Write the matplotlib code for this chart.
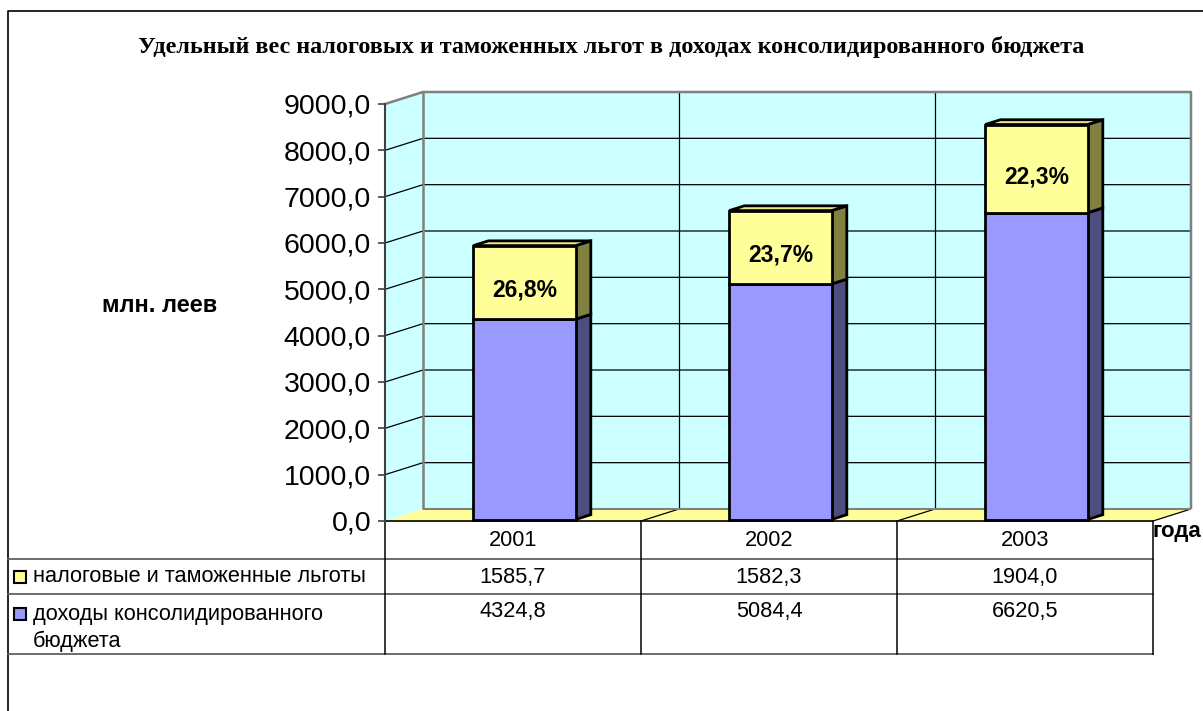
import matplotlib
matplotlib.use('Agg')
import matplotlib.pyplot as plt
from matplotlib.patches import Polygon, Rectangle
from matplotlib import transforms
import numpy as np

# ---------------- data ----------------
years = ['2001', '2002', '2003']
benefits = [1585.7, 1582.3, 1904.0]      # налоговые и таможенные льготы
revenues = [4324.8, 5084.4, 6620.5]      # доходы консолидированного бюджета
series_names = ['налоговые и таможенные льготы',
                'доходы консолидированного\nбюджета']
yticks = list(range(0, 9001, 1000))
title = 'Удельный вес налоговых и таможенных льгот в доходах консолидированного бюджета'
ylabel = 'млн. леев'
xlabel = 'года'

# ---------------- style ----------------
SANS = 'Liberation Sans'
SERIF = 'Liberation Serif'
WALL = '#CCFFFF'
FLOOR = '#FFFF99'
C_BEN_FRONT, C_BEN_SIDE, C_BEN_TOP = '#FFFF99', '#808040', '#E6E68A'
C_REV_FRONT, C_REV_SIDE, C_REV_TOP = '#9999FF', '#4D4D80', '#8A8AE6'
GRAY = '#808080'

W, H = 1203, 711
fig = plt.figure(figsize=(W / 100, H / 100), dpi=100)
fig.patch.set_facecolor('white')

# pixel overlay axes for frame / table
pix = fig.add_axes([0, 0, 1, 1])
pix.set_xlim(0, W)
pix.set_ylim(H, 0)
pix.axis('off')

# front plane of the 3D plot
L, R, T, B = 385, 1153, 104, 521
ax = fig.add_axes([L / W, 1 - B / H, (R - L) / W, (B - T) / H])
ncat = len(years)
ymax = 9000
ax.set_xlim(0, ncat)
ax.set_ylim(0, ymax)
ax.patch.set_visible(False)
for s in ['top', 'right', 'bottom']:
    ax.spines[s].set_visible(False)
ax.spines['left'].set_color('#404040')
ax.spines['left'].set_linewidth(1.5)
ax.set_xticks([])
ax.set_yticks(yticks)
ax.set_yticklabels([f'{v:.1f}'.replace('.', ',') for v in yticks],
                   fontsize=20.5, family=SANS)
ax.tick_params(axis='y', length=5, width=1.2, color='#404040', pad=5)

# depth in data units
DXp, DYp = 38, 12
DX = DXp / ((R - L) / ncat)
DY = DYp / ((B - T) / ymax)


def poly(pts, **kw):
    p = Polygon(pts, closed=True, clip_on=False, **kw)
    ax.add_patch(p)
    return p


def line(xs, ys, **kw):
    ax.plot(xs, ys, clip_on=False, solid_capstyle='butt', **kw)


# back wall
poly([(DX, DY), (ncat + DX, DY), (ncat + DX, ymax + DY), (DX, ymax + DY)],
     facecolor=WALL, edgecolor='none', zorder=1)
# side wall
poly([(0, 0), (DX, DY), (DX, ymax + DY), (0, ymax)],
     facecolor=WALL, edgecolor='none', zorder=1)
# floor
poly([(0, 0), (ncat, 0), (ncat + DX, DY), (DX, DY)],
     facecolor=FLOOR, edgecolor='none', zorder=1)

# gridlines
for v in yticks[1:-1]:
    line([0, DX, ncat + DX], [v, v + DY, v + DY], color='black', lw=0.9, zorder=2)
for c in range(1, ncat):
    line([c + DX, c + DX], [DY, ymax + DY], color='black', lw=0.9, zorder=2)
for c in range(1, ncat + 1):
    line([c, c + DX], [0, DY], color='black', lw=0.9, zorder=2)

# wall borders
line([DX, DX], [DY, ymax + DY], color=GRAY, lw=1.8, zorder=2)
line([0, DX, ncat + DX, ncat + DX], [ymax, ymax + DY, ymax + DY, DY],
     color=GRAY, lw=1.8, zorder=2)
line([DX, ncat + DX], [DY, DY], color=GRAY, lw=1.5, zorder=2)
line([0, ncat], [0, 0], color='black', lw=1.2, zorder=2)

# ---------------- bars ----------------
bw = 0.4
f0, f1 = 0.3, 0.7
BAR_DY_PX = 1.5
off = transforms.offset_copy(ax.transData, fig=fig, x=f0 * DXp, y=BAR_DY_PX, units='dots')
dd, ddy = (f1 - f0) * DX, (f1 - f0) * DY
xc = np.arange(ncat) + 0.5
EDGE = dict(edgecolor='black', linewidth=2.0, joinstyle='miter')

tops = [r + b for r, b in zip(revenues, benefits)]
for i in range(ncat):
    x0, x1 = xc[i] - bw / 2, xc[i] + bw / 2
    segs = [(0, revenues[i], C_REV_SIDE), (revenues[i], tops[i], C_BEN_SIDE)]
    for y0, y1, sc in segs:
        p = Polygon([(x1, y0), (x1 + dd, y0 + ddy), (x1 + dd, y1 + ddy), (x1, y1)],
                    closed=True, facecolor=sc, transform=off, clip_on=False,
                    zorder=4, **EDGE)
        ax.add_patch(p)
    p = Polygon([(x0, tops[i]), (x1, tops[i]), (x1 + dd, tops[i] + ddy), (x0 + dd, tops[i] + ddy)],
                closed=True, facecolor=C_BEN_TOP, transform=off, clip_on=False,
                zorder=4, **EDGE)
    ax.add_patch(p)

ax.bar(xc, revenues, width=bw, color=C_REV_FRONT, transform=off, zorder=5,
       clip_on=False, **EDGE)
ax.bar(xc, benefits, width=bw, bottom=revenues, color=C_BEN_FRONT, transform=off,
       zorder=5, clip_on=False, **EDGE)

lab_tr = transforms.offset_copy(ax.transData, fig=fig, x=f0 * DXp, y=BAR_DY_PX - 8, units='dots')
for i in range(ncat):
    share = benefits[i] / tops[i] * 100
    ax.text(xc[i], revenues[i] + benefits[i] / 2, f'{share:.1f}%'.replace('.', ','),
            transform=lab_tr, ha='center', va='center', fontsize=16.5,
            fontweight='bold', family=SANS, zorder=6)

# ---------------- texts ----------------
pix.text(611, 47, title, ha='center', va='center', family=SERIF,
         fontweight='bold', fontsize=17.4)
pix.text(160, 306, ylabel, ha='center', va='center', family=SANS,
         fontweight='bold', fontsize=17)
pix.text(1153, 532, xlabel, ha='left', va='center', family=SANS,
         fontweight='bold', fontsize=16)

# chart frame
pix.plot([8, 8, W + 5], [H + 5, 11, 11], color='black', lw=1.2)

# ---------------- data table ----------------
tb = transforms.blended_transform_factory(ax.transData, pix.transData)
row_y = [521, 559, 594, 654]
TBL_FS = 15.7
# vertical lines (category boundaries)
for c in range(0, ncat + 1):
    ax.plot([c, c], [row_y[0], row_y[-1]], transform=tb, color='black', lw=1.1,
            clip_on=False)
# horizontal lines
for yy in row_y[1:]:
    pix.plot([8, R], [yy, yy], color='#606060', lw=1.3)
# years / values
for i, yr in enumerate(years):
    ax.text(xc[i], 541, yr, transform=tb, ha='center', va='center',
            fontsize=TBL_FS, family=SANS, clip_on=False)
    ax.text(xc[i], 577, f'{benefits[i]:.1f}'.replace('.', ','), transform=tb,
            ha='center', va='center', fontsize=TBL_FS, family=SANS, clip_on=False)
    ax.text(xc[i], 611, f'{revenues[i]:.1f}'.replace('.', ','), transform=tb,
            ha='center', va='center', fontsize=TBL_FS, family=SANS, clip_on=False)

# legend keys
for (yk, col, name, ty) in [(577, C_BEN_FRONT, series_names[0], 577),
                            (614, C_REV_FRONT, series_names[1], 628)]:
    pix.add_patch(Rectangle((14, yk - 6), 12, 12, facecolor=col,
                            edgecolor='black', lw=1.5))
    pix.text(33, ty, name, ha='left', va='center', fontsize=TBL_FS,
             family=SANS, linespacing=1.35)

fig.savefig('out.png', dpi=100)
